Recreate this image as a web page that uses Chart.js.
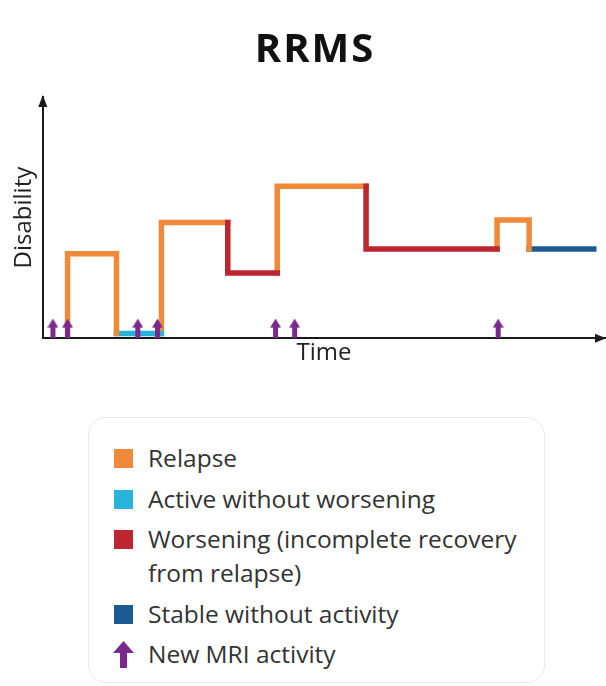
<!DOCTYPE html>
<html lang="en">
<head>
<meta charset="UTF-8">
<script src="https://cdn.jsdelivr.net/npm/chart.js"></script>
<title>RRMS</title>
<style>
    body { margin: 0; background: #fff; font-family: 'Open Sans', sans-serif; }
    .wrap { position: relative; width: 606px; height: 686px; overflow: hidden; }
    .chart-title {
        position: absolute; left: 0; top: 27px; width: 628px; padding-left: 2px; box-sizing: border-box;
        text-align: center; font-size: 40px; line-height: 40px; font-weight: bold; letter-spacing: 2px; color: #111;
    }
    .chart-box { position: absolute; left: 0; top: 0; width: 606px; height: 372px; }
    .legend-box {
        position: absolute; left: 88px; top: 417px; width: 457px; height: 266px;
        border: 1.5px solid #e9e9e9; border-radius: 18px; box-sizing: border-box;
        padding: 23px 0 0 24px;
    }
    .legend-item { display: flex; align-items: flex-start; color: #333; font-size: 24.5px; line-height: 34px; margin-bottom: 6.5px; white-space: nowrap; }
    .legend-swatch { width: 19px; height: 19px; margin: 8px 15px 0 1px; flex: none; }
    .legend-arrow { width: 21px; height: 27px; margin: 4px 14px 0 0; flex: none; }
</style>
</head>
<body>
<div class="wrap">
    <div class="chart-box"><canvas id="myChart" width="606" height="372"></canvas></div>
    <div class="chart-title">RRMS</div>
    <div class="legend-box" id="legend"></div>
</div>

<script>
    // phases along the time axis (0-100), disability levels (0-10)
    const phaseNames = ['relapse', 'active', 'relapse', 'worsening', 'relapse', 'worsening', 'relapse', 'stable'];
    const phaseStart = [4.4, 13.1, 21.1, 32.9, 41.7, 57.5, 80.8, 86.5];
    const phaseEnd = [13.1, 21.1, 32.9, 41.7, 57.5, 80.8, 86.5, 98];
    const phaseLevel = [3.5, 0.2, 4.8, 2.7, 6.3, 3.7, 4.9, 3.7];
    const baselineLevel = 0.2;

    // new MRI activity markers
    const mriTimes = [1.8, 4.4, 16.9, 20.4, 41.4, 44.8, 81.0];
    const mriLevel = 0.42;

    const legendKeys = ['relapse', 'active', 'worsening', 'stable', 'mri'];
    const legendLabels = ['Relapse', 'Active without worsening', 'Worsening (incomplete recovery<br>from relapse)', 'Stable without activity', 'New MRI activity'];

    const colors = {
        relapse: '#ee8a3a',
        active: '#27b3da',
        worsening: '#bd2530',
        stable: '#1b5a92',
        mri: '#7a2a8c'
    };

    // build one line per phase
    const datasets = [];
    for (let i = 0; i < phaseNames.length; i++) {
        const name = phaseNames[i];
        const prev = i === 0 ? baselineLevel : phaseLevel[i - 1];
        const pts = [];
        if (name === 'relapse' || name === 'worsening') {
            pts.push({x: phaseStart[i], y: prev});
        }
        pts.push({x: phaseStart[i], y: phaseLevel[i]});
        pts.push({x: phaseEnd[i], y: phaseLevel[i]});
        const next = phaseNames[i + 1];
        if (name === 'relapse' && next && next !== 'worsening') {
            pts.push({x: phaseEnd[i], y: phaseLevel[i + 1]});
        }
        datasets.push({
            label: name,
            data: pts,
            borderColor: colors[name],
            borderWidth: 5.5,
            borderJoinStyle: 'miter',
            borderCapStyle: 'square',
            pointRadius: 0,
            fill: false,
            tension: 0,
            order: name === 'worsening' ? 1 : 2
        });
    }

    // purple up-arrow marker
    function makeArrow(w, h, color) {
        const c = document.createElement('canvas');
        c.width = w; c.height = h;
        const g = c.getContext('2d');
        const head = Math.round(h * 0.45);
        const shaft = Math.max(3, Math.round(w * 0.45));
        g.fillStyle = color;
        g.beginPath();
        g.moveTo(w / 2, 0);
        g.lineTo(w, head);
        g.lineTo(w / 2 + shaft / 2, head);
        g.lineTo(w / 2 + shaft / 2, h);
        g.lineTo(w / 2 - shaft / 2, h);
        g.lineTo(w / 2 - shaft / 2, head);
        g.lineTo(0, head);
        g.closePath();
        g.fill();
        return c;
    }

    datasets.push({
        label: 'mri',
        data: mriTimes.map(t => ({x: t, y: mriLevel})),
        showLine: false,
        pointStyle: makeArrow(11, 19, colors.mri),
        pointRadius: 10,
        order: -1
    });

    // arrow heads on the axes
    const axisArrows = {
        id: 'axisArrows',
        afterDraw(chart) {
            const ctx = chart.ctx;
            const a = chart.chartArea;
            ctx.save();
            ctx.fillStyle = '#1a1a1a';
            ctx.beginPath();
            ctx.moveTo(a.left, a.top - 2);
            ctx.lineTo(a.left - 4.5, a.top + 10);
            ctx.lineTo(a.left + 4.5, a.top + 10);
            ctx.closePath();
            ctx.fill();
            ctx.beginPath();
            ctx.moveTo(a.right + 1, a.bottom);
            ctx.lineTo(a.right - 10, a.bottom - 4.5);
            ctx.lineTo(a.right - 10, a.bottom + 4.5);
            ctx.closePath();
            ctx.fill();
            ctx.restore();
        }
    };

    const ctx = document.getElementById('myChart').getContext('2d');
    const chart = new Chart(ctx, {
        type: 'line',
        data: { datasets: datasets },
        plugins: [axisArrows],
        options: {
            responsive: false,
            animation: false,
            layout: { autoPadding: false, padding: { left: 8, right: 1, top: 97, bottom: 2 } },
            plugins: {
                legend: { display: false },
                tooltip: { enabled: false },
                title: { display: false }
            },
            scales: {
                x: {
                    type: 'linear',
                    min: 0,
                    max: 100,
                    grid: { display: false, drawTicks: false },
                    ticks: { display: false },
                    border: { display: true, color: '#1a1a1a', width: 2 },
                    title: { display: true, text: 'Time', color: '#222', font: { family: 'Open Sans', size: 24 }, padding: { top: 1, bottom: 2 } }
                },
                y: {
                    min: 0,
                    max: 10,
                    grid: { display: false, drawTicks: false },
                    ticks: { display: false },
                    border: { display: true, color: '#1a1a1a', width: 2 },
                    title: { display: true, text: 'Disability', color: '#222', font: { family: 'Open Sans', size: 24 }, padding: { top: 2, bottom: 4 } }
                }
            }
        }
    });

    // html legend
    const legend = document.getElementById('legend');
    legendKeys.forEach((key, i) => {
        const item = document.createElement('div');
        item.className = 'legend-item';
        let icon;
        if (key === 'mri') {
            icon = '<svg class="legend-arrow" viewBox="0 0 21 27"><path d="M10.5 0 L21 12 L14 12 L14 27 L7 27 L7 12 L0 12 Z" fill="' + colors.mri + '"/></svg>';
        } else {
            icon = '<span class="legend-swatch" style="background:' + colors[key] + '"></span>';
        }
        item.innerHTML = icon + '<span>' + legendLabels[i] + '</span>';
        legend.appendChild(item);
    });
</script>
</body>
</html>
